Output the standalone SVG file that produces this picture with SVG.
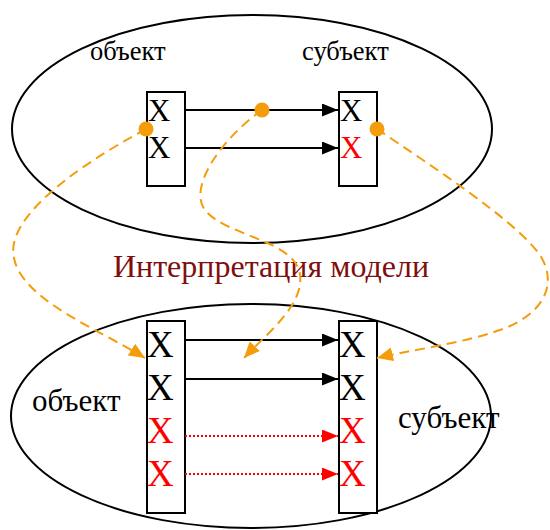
<svg xmlns="http://www.w3.org/2000/svg" width="550" height="530" viewBox="0 0 550 530">
  <style>
    .frame { fill: none; stroke: #000; stroke-width: 2; }
    .box { fill: #fff; stroke: #000; stroke-width: 2; }
    .lbl { font-family: "Liberation Serif", "Times New Roman", serif; fill: #000; }
    .x { font-family: "Liberation Serif", "Times New Roman", serif; }
    .blk { fill: #000; }
    .red { fill: #ff0000; }
    .link { stroke: #000; stroke-width: 2; fill: none; }
    .dot-link { stroke: #ff0000; stroke-width: 2; stroke-dasharray: 2 2; fill: none; }
    .map { stroke: #f59c0a; stroke-width: 2; stroke-dasharray: 10 6; fill: none; }
    .pin { fill: #f59c0a; }
    .title { font-family: "Liberation Serif", "Times New Roman", serif; fill: #7f0f0f; }
  </style>
  <defs>
    <marker id="arrow-black" viewBox="0 0 16 13" refX="16" refY="6.5" markerWidth="16" markerHeight="13" markerUnits="userSpaceOnUse" orient="auto">
      <path d="M0,0 L16,6.5 L0,13 Z" fill="#000"/>
    </marker>
    <marker id="arrow-red" viewBox="0 0 16 13" refX="16" refY="6.5" markerWidth="16" markerHeight="13" markerUnits="userSpaceOnUse" orient="auto">
      <path d="M0,0 L16,6.5 L0,13 Z" fill="#ff0000"/>
    </marker>
    <marker id="arrow-orange" viewBox="0 0 16 14" refX="16" refY="7" markerWidth="16" markerHeight="14" markerUnits="userSpaceOnUse" orient="auto">
      <path d="M0,0 L16,7 L0,14 Z" fill="#f59c0a"/>
    </marker>
  </defs>

  <!-- upper model: source -->
  <g id="model-top">
    <ellipse class="frame" cx="252" cy="129" rx="240" ry="114"/>
    <text class="lbl" x="90" y="60" font-size="26.5">объект</text>
    <text class="lbl" x="302" y="60" font-size="26.5">субъект</text>
  </g>

  <g id="top-object">
    <rect class="box" x="147" y="92" width="38" height="94"/>
    <text class="x blk" x="148" y="121" font-size="31">X</text>
    <text class="x blk" x="148" y="158" font-size="31">X</text>
  </g>

  <g id="top-subject">
    <rect class="box" x="339" y="92" width="38" height="94"/>
    <text class="x blk" x="340" y="121" font-size="31">X</text>
    <text class="x red" x="340" y="158" font-size="31">X</text>
  </g>

  <!-- lower model: interpretation -->
  <g id="model-bottom">
    <ellipse class="frame" cx="251" cy="416" rx="240" ry="112"/>
    <text class="lbl" x="32" y="411" font-size="31">объект</text>
    <text class="lbl" x="398" y="428" font-size="31">субъект</text>
  </g>

  <g id="bottom-object">
    <rect class="box" x="147" y="321" width="38" height="192"/>
    <text class="x blk" x="147" y="357" font-size="37">X</text>
    <text class="x blk" x="147" y="400" font-size="37">X</text>
    <text class="x red" x="147" y="443" font-size="37">X</text>
    <text class="x red" x="147" y="486" font-size="37">X</text>
  </g>

  <g id="bottom-subject">
    <rect class="box" x="339" y="321" width="38" height="192"/>
    <text class="x blk" x="339" y="357" font-size="37">X</text>
    <text class="x blk" x="339" y="400" font-size="37">X</text>
    <text class="x red" x="339" y="443" font-size="37">X</text>
    <text class="x red" x="339" y="486" font-size="37">X</text>
  </g>

  <g id="caption">
    <text class="title" x="271" y="277" font-size="32" text-anchor="middle">Интерпретация модели</text>
  </g>

  <g id="connectors">
    <line class="link" x1="185" y1="110" x2="338" y2="110" marker-end="url(#arrow-black)"/>
    <line class="link" x1="185" y1="148" x2="338" y2="148" marker-end="url(#arrow-black)"/>
    <line class="link" x1="185" y1="340" x2="338" y2="340" marker-end="url(#arrow-black)"/>
    <line class="link" x1="185" y1="379" x2="338" y2="379" marker-end="url(#arrow-black)"/>
    <line class="dot-link" x1="185" y1="436" x2="338" y2="436" marker-end="url(#arrow-red)"/>
    <line class="dot-link" x1="185" y1="474" x2="338" y2="474" marker-end="url(#arrow-red)"/>

    <path class="map" d="M146,129 C70,170 5,220 14,258 C22,300 100,330 145,358" marker-end="url(#arrow-orange)"/>
    <path class="map" d="M262,110 C220,140 188,188 205,210 C225,236 296,240 300,275 C304,306 266,334 244,358" marker-end="url(#arrow-orange)"/>
    <path class="map" d="M377,129 C430,165 515,220 540,255 C560,287 540,316 500,330 C460,344 410,350 377,358" marker-end="url(#arrow-orange)"/>

    <circle class="pin" cx="146" cy="129" r="7.5"/>
    <circle class="pin" cx="262" cy="110" r="7.5"/>
    <circle class="pin" cx="377" cy="129" r="7.5"/>
  </g>
</svg>
